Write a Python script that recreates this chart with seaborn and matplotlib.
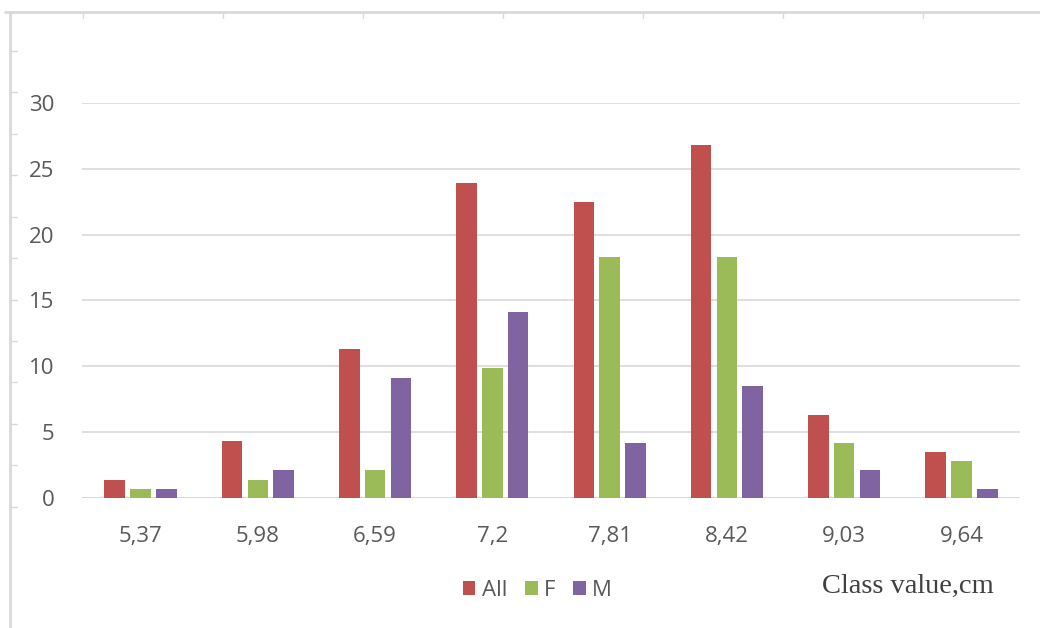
import matplotlib.pyplot as plt
from matplotlib.lines import Line2D
import numpy as np
import pandas as pd
import seaborn as sns

classes = ['5,37', '5,98', '6,59', '7,2', '7,81', '8,42', '9,03', '9,64']
all_vals = [1.4, 4.3, 11.3, 23.9, 22.5, 26.8, 6.3, 3.5]
f_vals = [0.7, 1.4, 2.1, 9.9, 18.3, 18.3, 4.2, 2.8]
m_vals = [0.7, 2.1, 9.1, 14.1, 4.2, 8.5, 2.1, 0.7]
groups = ['All', 'F', 'M']
colors = ['#C0504D', '#9BBB59', '#8064A2']
yticks = [0, 5, 10, 15, 20, 25, 30]

df = pd.DataFrame({
    'cls': classes * 3,
    'val': all_vals + f_vals + m_vals,
    'grp': [g for g in groups for _ in classes],
})

sns.set_theme(style='white')
plt.rcParams['font.family'] = ['Open Sans', 'DejaVu Sans']

fig = plt.figure(figsize=(10.4, 6.28), dpi=100)
ax = fig.add_axes([0.0788, 0.207, 0.902, 0.629])

sns.barplot(data=df, x='cls', y='val', hue='grp', order=classes, hue_order=groups,
            palette=colors, saturation=1, width=0.66, gap=0.2, linewidth=0,
            legend=True, ax=ax)

ax.set_ylim(0, 30)
ax.set_xlim(-0.5, len(classes) - 0.5)
ax.set_yticks(yticks)
ax.yaxis.grid(True, color='#d9d9d9', linewidth=1.2)
ax.set_axisbelow(True)
for s in ax.spines.values():
    s.set_visible(False)
ax.axhline(0, color='#d9d9d9', linewidth=1.4, zorder=0)
ax.set_xlabel('')
ax.set_ylabel('')
ax.tick_params(axis='both', length=0, labelsize=16, labelcolor='#595959')
ax.tick_params(axis='x', pad=20)
ax.tick_params(axis='y', pad=20)

handles, labels = ax.get_legend_handles_labels()
ax.get_legend().remove()
fig.legend(handles, labels, loc='center', bbox_to_anchor=(0.517, 0.06), ncol=3,
           frameon=False, fontsize=16, handlelength=0.55, handleheight=0.55,
           handletextpad=0.3, columnspacing=0.8, labelcolor='#595959')

fig.text(0.79, 0.066, 'Class value,cm', family='Liberation Serif', fontsize=20.5,
         color='#404040', va='center', ha='left')

# page frame around the chart
frame_col = '#d9d9d9'
fig.add_artist(Line2D([0.005, 1.0], [0.981, 0.981], color=frame_col, linewidth=2))
fig.add_artist(Line2D([0.0096, 0.0096], [0.0, 0.981], color=frame_col, linewidth=2))
for x in np.arange(0.08, 1.0, 0.1346):
    fig.add_artist(Line2D([x, x], [0.981, 0.972], color=frame_col, linewidth=1))
for y in np.arange(0.193, 0.981, 0.066):
    fig.add_artist(Line2D([0.0096, 0.016], [y, y], color=frame_col, linewidth=1))

fig.savefig('out.png', dpi=100)
